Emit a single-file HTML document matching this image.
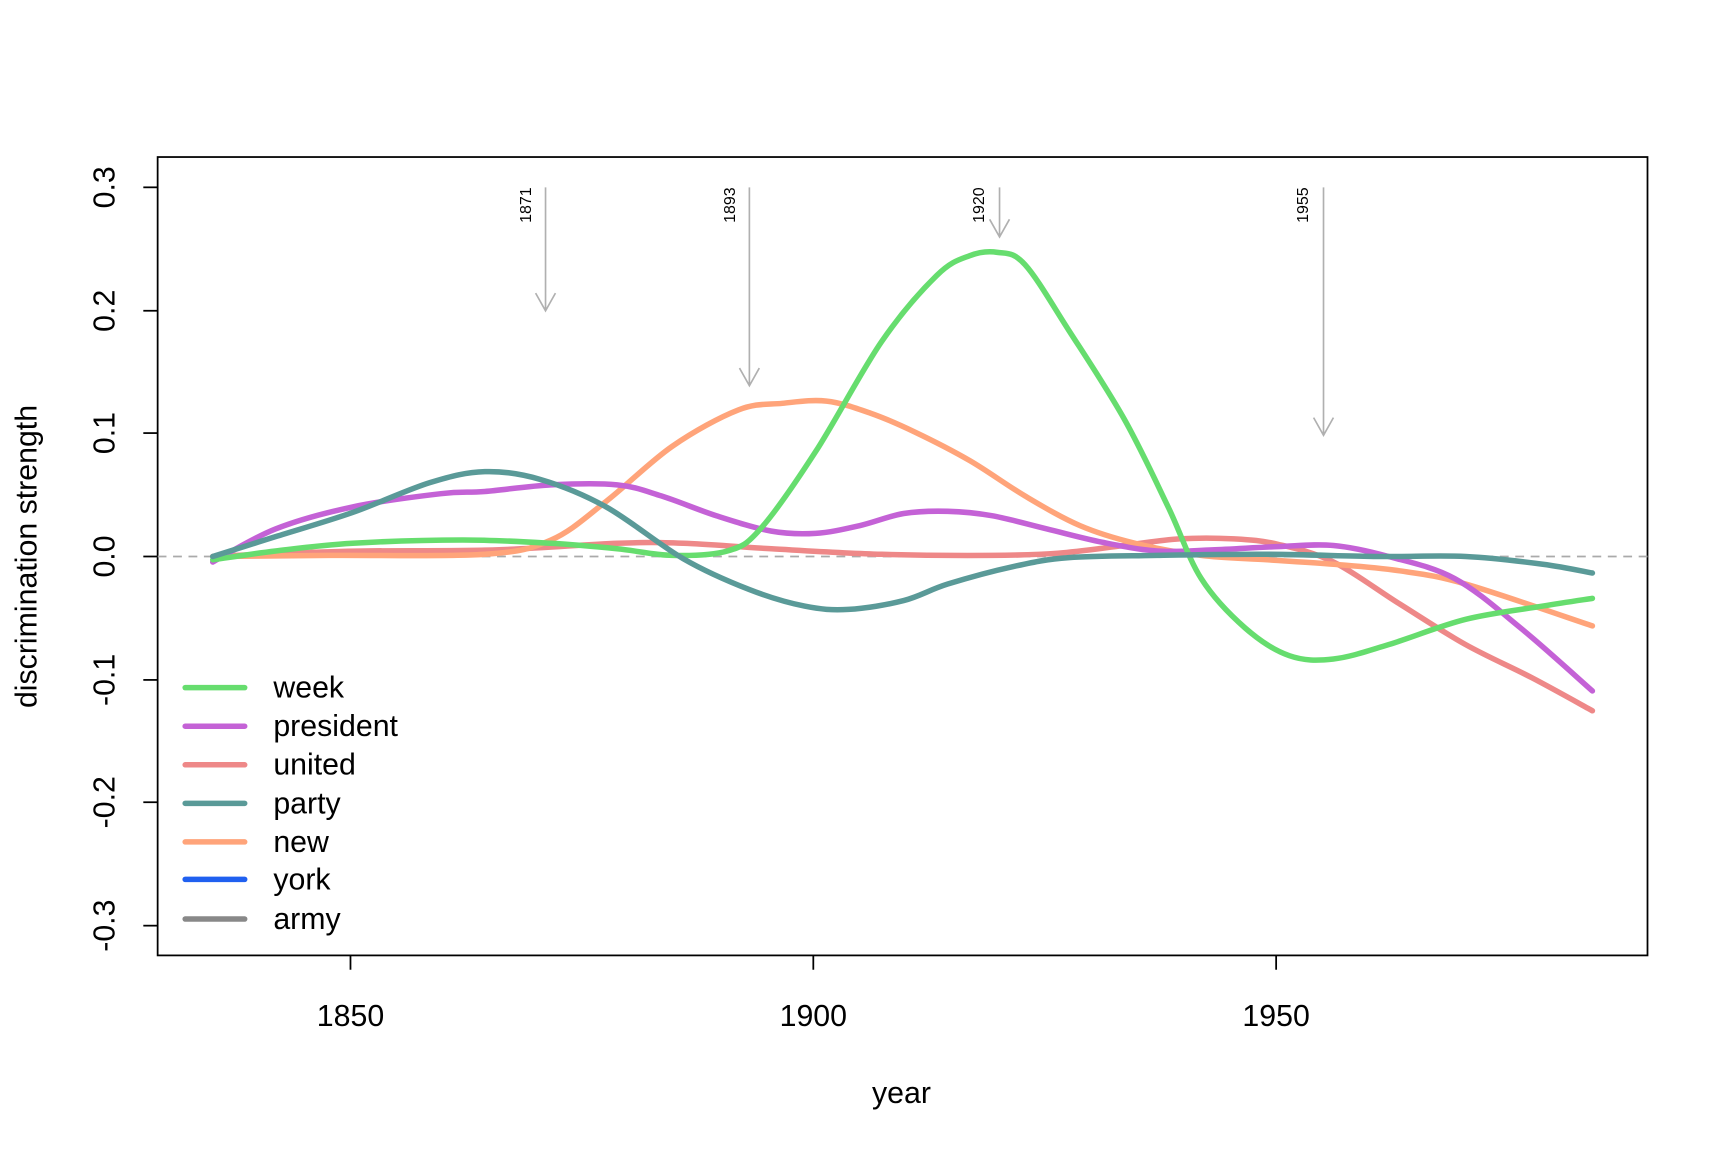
<!DOCTYPE html>
<html><head><meta charset="utf-8"><style>html,body{margin:0;padding:0;background:#fff}svg{display:block}</style></head>
<body>
<svg id="s" width="1728" height="1152" viewBox="0 0 1568 1045.4" xmlns="http://www.w3.org/2000/svg" font-family="Liberation Sans, sans-serif">
<rect x="143" y="142.5" width="1352" height="724.5" fill="none" stroke="#000" stroke-width="1.6"/>
<line x1="143" y1="505" x2="1495" y2="505" stroke="#aaa" stroke-width="1.5" stroke-dasharray="8,6"/>
<g stroke="#000" stroke-width="1.6">
<line x1="130" y1="170" x2="143" y2="170"/><line x1="130" y1="282" x2="143" y2="282"/><line x1="130" y1="393" x2="143" y2="393"/><line x1="130" y1="505" x2="143" y2="505"/><line x1="130" y1="617" x2="143" y2="617"/><line x1="130" y1="728" x2="143" y2="728"/><line x1="130" y1="840" x2="143" y2="840"/>
<line x1="318" y1="867" x2="318" y2="880"/><line x1="738" y1="867" x2="738" y2="880"/><line x1="1158" y1="867" x2="1158" y2="880"/>
</g>
<g font-size="27.5" text-anchor="middle" fill="#000">
<text transform="translate(104,170) rotate(-90)">0.3</text>
<text transform="translate(104,282) rotate(-90)">0.2</text>
<text transform="translate(104,393) rotate(-90)">0.1</text>
<text transform="translate(104,505) rotate(-90)">0.0</text>
<text transform="translate(104,617) rotate(-90)">-0.1</text>
<text transform="translate(104,728) rotate(-90)">-0.2</text>
<text transform="translate(104,840) rotate(-90)">-0.3</text>
<text x="318" y="931">1850</text><text x="738" y="931">1900</text><text x="1158" y="931">1950</text>
<text x="818" y="1001">year</text>
<text transform="translate(33,505) rotate(-90)">discrimination strength</text>
</g>
<g stroke="#b0b0b0" stroke-width="1.5" fill="none">
<path d="M495 170V282M486 266L495 282L504 266"/>
<path d="M680 170V350M671 334L680 350L689 334"/>
<path d="M907 170V215M898 199L907 215L916 199"/>
<path d="M1201 170V395M1192 379L1201 395L1210 379"/>
</g>
<g font-size="14.5" text-anchor="end" fill="#000">
<text transform="translate(482,170) rotate(-90)">1871</text>
<text transform="translate(667,170) rotate(-90)">1893</text>
<text transform="translate(893,170) rotate(-90)">1920</text>
<text transform="translate(1187,170) rotate(-90)">1955</text>
</g>
<g id="curves" fill="none" stroke-width="5" stroke-linecap="round" stroke-linejoin="round"></g>
<g stroke-width="5" stroke-linecap="round">
<line x1="168" y1="624" x2="222" y2="624" stroke="#66dd6e"/>
<line x1="168" y1="659" x2="222" y2="659" stroke="#c462d6"/>
<line x1="168" y1="694" x2="222" y2="694" stroke="#ee8888"/>
<line x1="168" y1="729" x2="222" y2="729" stroke="#5a9a98"/>
<line x1="168" y1="764" x2="222" y2="764" stroke="#ffa47a"/>
<line x1="168" y1="798" x2="222" y2="798" stroke="#2060f0"/>
<line x1="168" y1="834" x2="222" y2="834" stroke="#888888"/>
</g>
<g font-size="27.5" fill="#000">
<text x="248" y="633">week</text><text x="248" y="668">president</text><text x="248" y="703">united</text><text x="248" y="738">party</text><text x="248" y="773">new</text><text x="248" y="807">york</text><text x="248" y="843">army</text>
</g>
</svg>
<script>
var S={
"#ee8888":[[193,505],[260,502],[330,500],[450,499],[560,493],[620,493],[700,498],[800,503],[900,504],[960,502],[1020,495],[1070,489],[1120,489],[1160,494],[1210,510],[1270,548],[1330,585],[1390,615],[1445,645]],
"#ffa47a":[[193,505],[300,504],[440,503],[500,490],[550,455],[610,405],[670,372],[710,366],[750,364],[790,375],[830,392],[880,418],[930,450],[980,477],[1030,493],[1090,504],[1150,508],[1210,512],[1270,518],[1330,530],[1445,568]],
"#c462d6":[[193,510],[250,480],[320,460],[400,448],[440,446],[500,440],[560,440],[600,450],[650,468],[700,482],[740,484],[780,477],[820,466],[860,464],[900,468],[950,480],[1000,492],[1050,500],[1100,499],[1160,496],[1210,495],[1260,505],[1320,525],[1380,570],[1445,627]],
"#66dd6e":[[193,508],[250,500],[320,493],[420,490],[500,493],[560,498],[610,504],[660,500],[690,480],[740,410],[800,310],[850,250],[880,232],[905,229],[930,240],[970,300],[1020,380],[1060,460],[1090,525],[1130,570],[1170,595],[1210,598],[1260,585],[1330,562],[1400,550],[1445,543]],
"#5a9a98":[[193,505],[250,487],[320,465],[390,438],[440,428],[490,435],[550,460],[620,507],[680,535],[730,550],[770,553],[820,545],[860,530],[920,514],[970,506],[1050,504],[1150,503],[1250,505],[1330,505],[1400,512],[1445,520]]
};
var g=document.getElementById('curves');
for(var c in S){var p=S[c],d="M"+p[0][0]+" "+p[0][1];
for(var i=0;i<p.length-1;i++){var a=p[Math.max(i-1,0)],b=p[i],e=p[i+1],f=p[Math.min(i+2,p.length-1)];
d+=" C"+(b[0]+(e[0]-a[0])/6)+" "+(b[1]+(e[1]-a[1])/6)+" "+(e[0]-(f[0]-b[0])/6)+" "+(e[1]-(f[1]-b[1])/6)+" "+e[0]+" "+e[1];}
var el=document.createElementNS("http://www.w3.org/2000/svg","path");el.setAttribute("d",d);el.setAttribute("stroke",c);g.appendChild(el);}
</script>
</body></html>
